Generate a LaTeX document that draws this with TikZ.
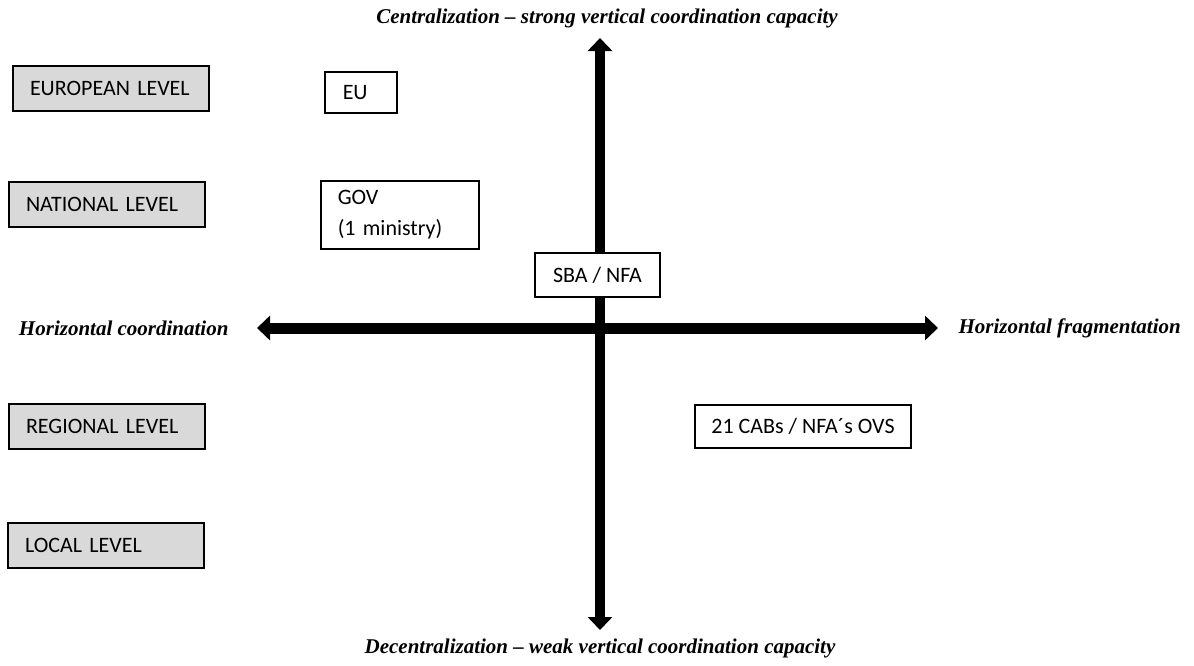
\documentclass[tikz,border=0pt]{standalone}
\usepackage{fontspec}
\setmainfont{Carlito}
\newfontfamily\labelfont{Liberation Serif}
\usepackage{tikz}
\usetikzlibrary{arrows.meta}

\definecolor{levelgray}{HTML}{D9D9D9}

\tikzset{
  levelbox/.style={draw, fill=levelgray, line width=2pt, anchor=west,
    minimum height=45pt, inner xsep=17pt, text width=162pt, align=left,
    font=\fontsize{22}{26}\selectfont},
  actorbox/.style={draw, fill=white, line width=1.5pt,
    font=\fontsize{22}{31}\selectfont},
  axislabel/.style={font=\labelfont\bfseries\itshape\fontsize{21}{25}\selectfont},
  bigarrow/.style={line width=#1, {Triangle[length=13pt,width=24pt]}-{Triangle[length=13pt,width=24pt]}}
}

\begin{document}
\begin{tikzpicture}[x=1pt,y=-1pt]
  \useasboundingbox (0,0) rectangle (1194,665);

  % axes
  \coordinate (top) at (600,38);
  \coordinate (bottom) at (600,630);
  \coordinate (left) at (257,328);
  \coordinate (right) at (938,328);
  \draw[bigarrow=10pt] (bottom) -- (top);
  \draw[bigarrow=11pt] (left) -- (right);

  \node[axislabel] (central) at (607,18) {Centralization – strong vertical coordination capacity};
  \node[axislabel] (decentral) at (600,648) {Decentralization – weak vertical coordination capacity};
  \node[axislabel, anchor=east] (hcoord) at (232,328) {Horizontal coordination};
  \node[axislabel, anchor=west] (hfrag) at (955,328) {Horizontal fragmentation};

  % levels
  \node[levelbox] (european) at (12,88) {EUROPEAN LEVEL};
  \node[levelbox] (national) at (8,204.5) {NATIONAL LEVEL};
  \node[levelbox] (regional) at (8,426) {REGIONAL LEVEL};
  \node[levelbox] (local) at (7,545) {LOCAL LEVEL};

  % actors
  \node[actorbox, anchor=west, minimum width=72pt, minimum height=41pt, inner xsep=18pt,
    text width=36pt, align=left] (eu) at (324,92.5) {EU};
  \node[actorbox, anchor=west, minimum height=68pt, inner xsep=17pt,
    text width=124pt, align=left] (gov) at (320,215) {GOV\\(1 ministry)};
  \node[actorbox, minimum width=125pt, minimum height=44pt] (sba) at (597.5,275) {SBA / NFA};
  \node[actorbox, minimum width=216pt, minimum height=43pt] (cabs) at (803,426.5) {21 CABs / NFA´s OVS};
\end{tikzpicture}
\end{document}
